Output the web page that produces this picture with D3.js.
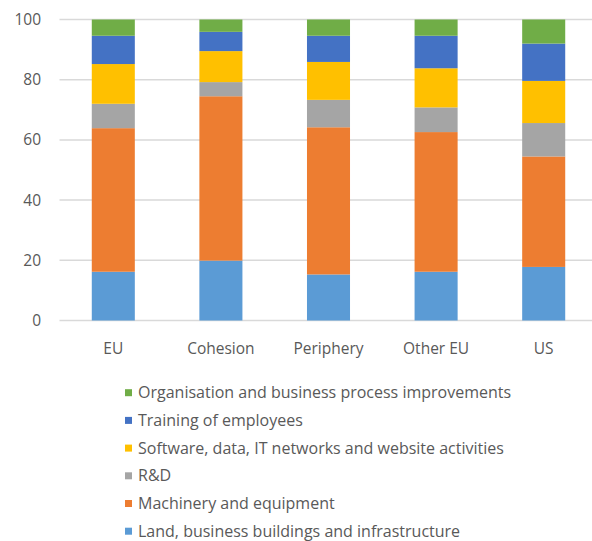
<!DOCTYPE html>
<html><head><meta charset="utf-8">
<script src="https://cdn.jsdelivr.net/npm/d3@7"></script>
<style>body{margin:0;background:#fff;} svg{display:block;font-family:"Open Sans","Noto Sans",sans-serif;}</style>
</head><body><svg id="c" width="592" height="541"></svg>
<script>
const categories = ["EU","Cohesion","Periphery","Other EU","US"];
const seriesNames = ["Land, business buildings and infrastructure","Machinery and equipment","R&D","Software, data, IT networks and website activities","Training of employees","Organisation and business process improvements"];
const seriesColors = ["#5b9bd5","#ed7d31","#a5a5a5","#ffc000","#4472c4","#70ad47"];
const land      = [16.2, 19.9, 15.3, 16.2, 17.8];
const machinery = [47.7, 54.6, 48.9, 46.4, 36.7];
const rnd       = [ 8.1,  4.7,  9.1,  8.2, 11.1];
const software  = [13.2, 10.3, 12.6, 13.0, 14.0];
const training  = [ 9.4,  6.4,  8.7, 10.8, 12.4];
const organisation = [5.4, 4.1, 5.4, 5.4, 8.0];
const yTicks = [0,20,40,60,80,100];

(function(){
const seriesValues = [land, machinery, rnd, software, training, organisation];
const rows = categories.map((c,i)=>{const r={cat:c}; seriesNames.forEach((s,j)=>r[s]=seriesValues[j][i]); return r;});
const stack = d3.stack().keys(seriesNames)(rows);

const svg = d3.select("#c");
const mLeft = 59.5, mRight = 597.5, mTop = 19.5, mBottom = 320.5;
const x = d3.scaleBand().domain(categories).range([mLeft,mRight]).paddingInner(0.6).paddingOuter(0.3);
const y = d3.scaleLinear().domain([0,100]).range([mBottom,mTop]);

svg.append("g").selectAll("line").data(yTicks).join("line")
  .attr("x1",mLeft).attr("x2",592).attr("y1",d=>y(d)).attr("y2",d=>y(d))
  .attr("stroke","#d9d9d9").attr("stroke-width",1.5);

svg.append("g").selectAll("text").data(yTicks).join("text")
  .attr("x",41).attr("y",d=>y(d)).attr("dy","0.35em").attr("text-anchor","end")
  .attr("font-size",15.5).attr("fill","#595959").text(d=>d);

svg.append("g").selectAll("g").data(stack).join("g")
  .attr("fill",(d,i)=>seriesColors[i])
  .selectAll("rect").data(d=>d).join("rect")
  .attr("x",d=>x(d.data.cat)).attr("width",x.bandwidth())
  .attr("y",d=>y(d[1])).attr("height",d=>y(d[0])-y(d[1]));

svg.append("g").selectAll("text").data(categories).join("text")
  .attr("x",d=>x(d)+x.bandwidth()/2).attr("y",354).attr("text-anchor","middle")
  .attr("font-size",15.5).attr("fill","#595959").text(d=>d);

const legendOrder = seriesNames.map((s,i)=>i).reverse();
const lg = svg.append("g").selectAll("g").data(legendOrder).join("g")
  .attr("transform",(d,k)=>`translate(125,${392.7+k*27.7})`);
lg.append("rect").attr("x",0).attr("y",-3.5).attr("width",7).attr("height",7).attr("fill",d=>seriesColors[d]);
lg.append("text").attr("x",13).attr("y",0).attr("dy","0.35em").attr("font-size",16)
  .attr("fill","#595959").text(d=>seriesNames[d]);
})();
</script></body></html>
